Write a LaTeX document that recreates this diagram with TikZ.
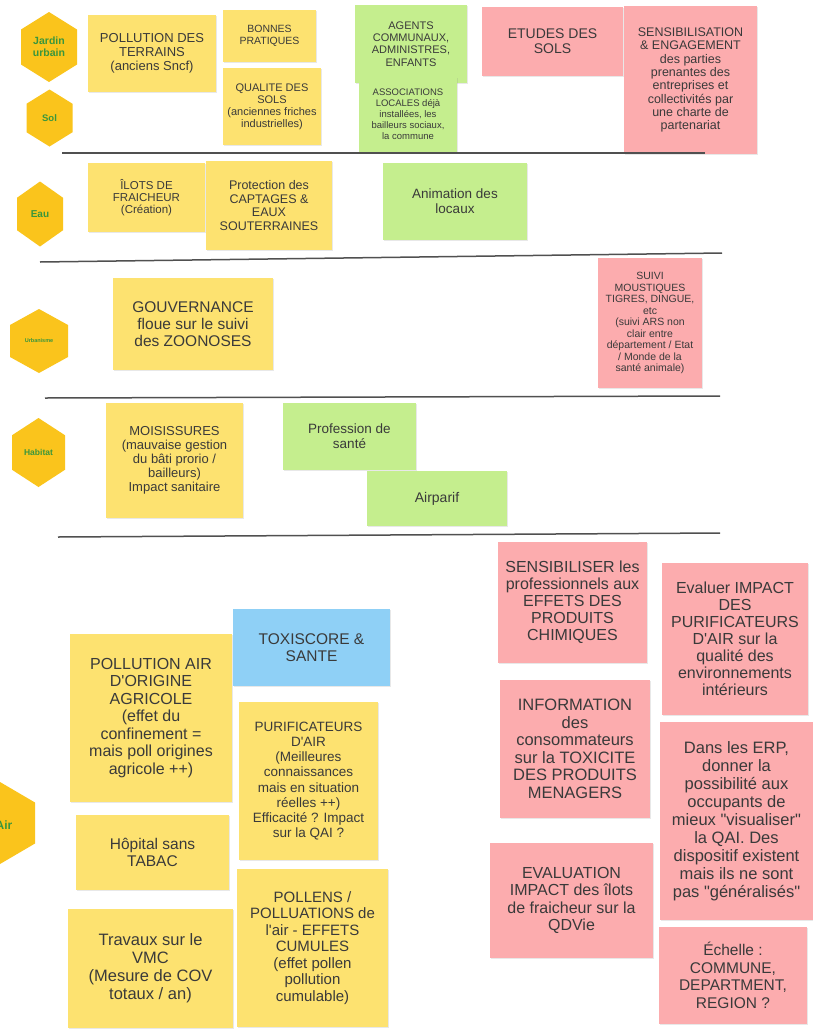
\documentclass[tikz,border=0pt]{standalone}
\usepackage{fontspec}
\setmainfont{Liberation Sans}
\usetikzlibrary{shadows}
\definecolor{postityellow}{RGB}{253,226,112}
\definecolor{postitgreen}{RGB}{197,238,142}
\definecolor{postitpink}{RGB}{252,172,174}
\definecolor{postitblue}{RGB}{143,208,246}
\definecolor{hexyellow}{RGB}{250,196,28}
\definecolor{hexgreen}{RGB}{58,150,60}
\definecolor{inkgrey}{RGB}{58,58,58}
\definecolor{rulegrey}{RGB}{80,80,80}
\def\sz#1#2{\fontsize{#1}{#2}\selectfont}
\def\q{\textquotesingle}
\def\qq{\textquotedbl}
\def\hexa(#1,#2)(#3:#4){\fill[hexyellow] (#1,#2) ++(0,-#4/2) -- ++(#3/2,#4/4) -- ++(0,#4/2) -- ++(-#3/2,#4/4) -- ++(-#3/2,-#4/4) -- ++(0,-#4/2) -- cycle;}
\tikzset{
  note/.style={fill=#1, text=inkgrey, align=center, inner sep=2pt,
    drop shadow={opacity=0.18, shadow xshift=0.8pt, shadow yshift=-1.2pt}},
  hexlabel/.style={text=hexgreen, align=center},
  divider/.style={rulegrey, line width=1.5pt},
}

\begin{document}
\begin{tikzpicture}[x=1pt, y=-1pt]
			%%%%% START %%%%%
			\useasboundingbox[fill=white] (0,0) rectangle (813,1029);
			
			% themes
			\hexa(49,47)(56:70);
			\node[hexlabel, font=\bfseries\sz{10.5}{12}] (jardin) at (49,47) {Jardin\\urbain};
			\hexa(49.5,118)(46:57);
			\node[hexlabel, font=\bfseries\sz{9.5}{11}] (sol) at (49.5,118) {Sol};
			\hexa(40,214)(46:65);
			\node[hexlabel, font=\bfseries\sz{10}{11}] (eau) at (40,214) {Eau};
			\hexa(39,341)(58:64);
			\node[hexlabel, font=\bfseries\sz{5.5}{6}] (urba) at (39,341) {Urbanisme};
			\hexa(38.5,452.5)(53:69);
			\node[hexlabel, font=\bfseries\sz{8.5}{10}] (habitat) at (38.5,452.5) {Habitat};
			\hexa(0,823)(70:82);
			\node[hexlabel, font=\bfseries\sz{12}{13}] (air) at (4,825) {Air};
			
			% jardin urbain / sol
			\node[note=postityellow, minimum width=128, minimum height=77, font=\sz{13}{14}] (pollTerr) at (152,53.5) {POLLUTION DES\\TERRAINS\\(anciens Sncf)};
			\node[note=postityellow, minimum width=93, minimum height=52, font=\sz{10.5}{11.5}] (bonnes) at (269.5,36) {BONNES\\PRATIQUES};
			\node[note=postityellow, minimum width=98, minimum height=77, font=\sz{11}{12}] (qualite) at (272,106.5) {QUALITE DES\\SOLS\\(anciennes friches\\industrielles)};
			\node[note=postitgreen, minimum width=112, minimum height=78, font=\sz{11}{12.3}] (agents) at (411,44) {AGENTS\\COMMUNAUX,\\ADMINISTRES,\\ENFANTS};
			\node[note=postitgreen, minimum width=98, minimum height=75, font=\sz{9.5}{11}] (assoc) at (408,114.5) {ASSOCIATIONS\\LOCALES déjà\\installées, les\\bailleurs sociaux,\\la commune};
			\node[note=postitpink, minimum width=141, minimum height=69, font=\sz{14}{15}] (etudes) at (552.5,41.5) {ETUDES DES\\SOLS};
			\node[note=postitpink, minimum width=133, minimum height=148, font=\sz{12.5}{13.3}] (charte) at (690.5,80) {SENSIBILISATION\\\& ENGAGEMENT\\des parties\\prenantes des\\entreprises et\\collectivités par\\une charte de\\partenariat};
			\draw[divider] (62,153) -- (705,153);
			
			% eau
			\node[note=postityellow, minimum width=117, minimum height=69, font=\sz{11.5}{12}] (ilots) at (146.5,197.5) {ÎLOTS DE\\FRAICHEUR\\(Création)};
			\node[note=postityellow, minimum width=126, minimum height=89, font=\sz{12.5}{13.5}] (captages) at (269,205.5) {Protection des\\CAPTAGES \&\\EAUX\\SOUTERRAINES};
			\node[note=postitgreen, minimum width=144, minimum height=77, font=\sz{13.5}{15}] (animation) at (455,201.5) {Animation des\\locaux};
			\draw[divider] (40,262) -- (722,253);
			
			% urbanisme
			\node[note=postityellow, minimum width=160, minimum height=92, font=\sz{15.5}{17}] (gouv) at (193,324) {GOUVERNANCE\\floue sur le suivi\\des ZOONOSES};
			\node[note=postitpink, minimum width=104, minimum height=130, font=\sz{10.5}{11.5}] (moustiques) at (650,323) {SUIVI\\MOUSTIQUES\\TIGRES, DINGUE,\\etc\\(suivi ARS non\\clair entre\\département / Etat\\/ Monde de la\\santé animale)};
			\draw[divider] (45,398) -- (720,396);
			
			% habitat
			\node[note=postityellow, minimum width=137, minimum height=115, font=\sz{13}{14}] (moisi) at (174.5,460.5) {MOISISSURES\\(mauvaise gestion\\du bâti prorio /\\bailleurs)\\Impact sanitaire};
			\node[note=postitgreen, minimum width=133, minimum height=67, font=\sz{13.5}{15}] (sante) at (349.5,436.5) {Profession de\\santé};
			\node[note=postitgreen, minimum width=140, minimum height=55, font=\sz{14}{15}] (airparif) at (437,498.5) {Airparif};
			\draw[divider] (58,537) -- (720,533);
			
			% air
			\node[note=postitpink, minimum width=149, minimum height=121, font=\sz{16}{17}] (chimiques) at (572.5,602.5) {SENSIBILISER les\\professionnels aux\\EFFETS DES\\PRODUITS\\CHIMIQUES};
			\node[note=postitpink, minimum width=146, minimum height=152, font=\sz{16}{17}] (evalPurif) at (735,639) {Evaluer IMPACT\\DES\\PURIFICATEURS\\D\q AIR sur la\\qualité des\\environnements\\intérieurs};
			\node[note=postitpink, minimum width=150, minimum height=138, font=\sz{16.5}{17.5}] (menagers) at (575,749) {INFORMATION\\des\\consommateurs\\sur la TOXICITE\\DES PRODUITS\\MENAGERS};
			\node[note=postitpink, minimum width=153, minimum height=198, font=\sz{16.5}{18}] (erp) at (736.5,821) {Dans les ERP,\\donner la\\possibilité aux\\occupants de\\mieux \qq visualiser\qq\\la QAI. Des\\dispositif existent\\mais ils ne sont\\pas \qq généralisés\qq};
			\node[note=postitpink, minimum width=163, minimum height=115, font=\sz{16}{17.5}] (evalIlots) at (571.5,900.5) {EVALUATION\\IMPACT des îlots\\de fraicheur sur la\\QDVie};
			\node[note=postitpink, minimum width=148, minimum height=97, font=\sz{15.5}{17.5}] (echelle) at (733,975.5) {Échelle :\\COMMUNE,\\DEPARTMENT,\\REGION ?};
			
			\node[note=postitblue, minimum width=157, minimum height=77, font=\sz{15.5}{17}] (toxiscore) at (311.5,647.5) {TOXISCORE \&\\SANTE};
			\node[note=postityellow, minimum width=162, minimum height=168, font=\sz{16}{17.5}] (pollAir) at (151,718) {POLLUTION AIR\\D\q ORIGINE\\AGRICOLE\\(effet du\\confinement =\\mais poll origines\\agricole ++)};
			\node[note=postityellow, minimum width=139, minimum height=158, font=\sz{13.5}{15.2}] (purif) at (308.5,781) {PURIFICATEURS\\D\q AIR\\(Meilleures\\connaissances\\mais en situation\\réelles ++)\\Efficacité ? Impact\\sur la QAI ?};
			\node[note=postityellow, minimum width=153, minimum height=75, font=\sz{15.5}{17}] (hopital) at (152.5,852.5) {Hôpital sans\\TABAC};
			\node[note=postityellow, minimum width=165, minimum height=119, font=\sz{16.5}{18}] (vmc) at (150.5,968.5) {Travaux sur le\\VMC\\(Mesure de COV\\totaux / an)};
			\node[note=postityellow, minimum width=151, minimum height=158, font=\sz{15}{16.5}] (pollens) at (312.5,948) {POLLENS /\\POLLUATIONS de\\l\q air - EFFETS\\CUMULES\\(effet pollen\\pollution\\cumulable)};
			
			%%%%% END %%%%%
\end{tikzpicture}
\end{document}
